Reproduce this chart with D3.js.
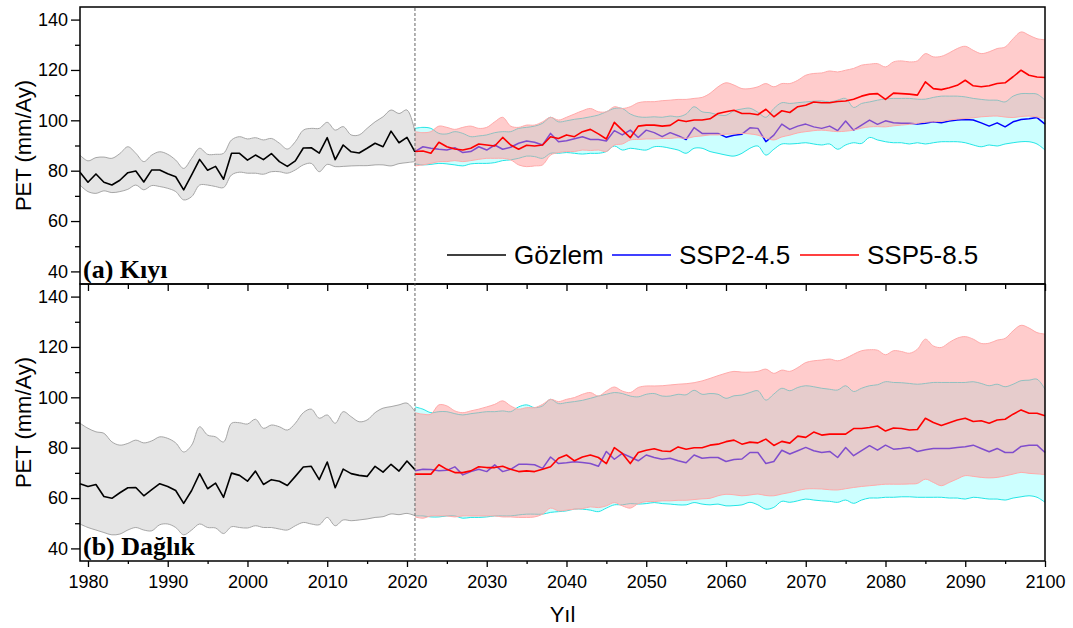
<!DOCTYPE html>
<html>
<head>
<meta charset="utf-8">
<script src="https://cdn.jsdelivr.net/npm/d3@7"></script>
<style>
  body { margin: 0; background: #fff; }
  svg { display: block; }
  text { font-family: "Liberation Sans", Arial, sans-serif; fill: #000; }
</style>
</head>
<body>
<svg width="1073" height="628"></svg>
<script>
// years
var obsYears = d3.range(1979, 2022);
var futYears = d3.range(2021, 2101);

// (a) Kiyi
var obsA   = [79.4,75.4,78.7,75.4,74.3,76.2,79.2,79.9,75.5,80.3,80.3,78.8,77.6,72.4,78.3,84.5,80.2,81.7,76.6,86.9,86.9,84.2,86.2,84.4,86.8,83.6,81.7,83.9,89.0,89.1,87.0,93.1,84.4,90.2,87.5,87.0,88.9,90.9,89.5,95.7,91.1,93.2,87.5];
var obsAHi = [86.2,83.9,85.2,85.4,84.9,86.8,89.5,86.9,83.6,86.2,87.5,86.5,84.2,80.9,84.9,88.9,86.5,86.5,86.9,92.2,93.5,92.6,93.1,92.2,92.8,90.9,88.6,91.5,96.1,96.8,96.8,99.2,96.1,97.5,94.2,94.2,96.8,99.4,101.4,104.1,102.7,104.1,95.5];
var obsALo = [74.3,71.7,71.0,72.0,71.3,71.7,72.6,74.3,72.4,74.1,73.7,73.0,71.7,68.4,69.7,74.3,74.3,73.7,73.3,78.3,79.4,79.0,79.0,78.6,79.6,79.6,79.0,80.3,82.3,82.9,79.6,82.5,81.6,81.7,81.9,82.0,82.0,82.3,82.3,81.9,82.8,83.2,83.6];

var ssp2A = [87.6,89.5,88.9,88.5,88.2,89.1,87.2,87.6,89.5,88.2, 90.2,88.5,89.3,90.9,91.8,91.3,90.2,94.8,91.5,91.9,
             92.7,93.5,92.4,92.4,91.8,95.9,94.2,96.1,93.2,96.1, 95.1,93.5,95.1,93.9,92.4,97.1,94.8,94.8,94.8,93.3,
             94.1,94.5,97.0,96.8,91.5,94.1,98.5,96.4,97.7,98.5, 97.4,96.8,97.7,95.9,99.7,96.1,98.1,100.1,98.4,99.8,
             99.0,98.8,98.8,98.5,98.8,99.4,99.0,99.7,100.1,100.3, 100.1,99.0,97.7,99.0,97.4,99.4,100.3,100.6,101.1,98.5];
var ssp2AHi = [96.8,97.2,96.8,94.8,94.6,95.5,94.8,93.5,93.8,94.2, 95.1,95.5,95.5,96.8,97.2,97.7,98.8,101.2,99.4,99.8,
               100.4,100.8,101.4,102.1,103.4,104.7,104.7,102.5,101.4,101.2, 101.4,101.2,101.7,101.4,102.5,105.4,103.4,103.0,102.2,102.0,
               103.8,104.5,104.8,103.2,101.2,104.7,107.0,106.7,107.0,107.3, 107.6,107.7,107.3,108.0,108.7,105.1,106.7,107.3,108.0,108.5,
               108.7,108.7,108.7,108.4,108.4,109.1,109.6,109.6,109.6,109.3, 108.7,108.3,108.0,108.0,107.3,109.6,110.6,110.6,110.4,108.0];
var ssp2ALo = [82.7,82.3,82.5,82.9,82.7,82.3,81.9,82.7,82.9,82.9, 83.2,84.0,84.3,84.9,85.8,85.6,84.9,86.9,86.9,87.2,
               86.9,86.6,86.9,86.9,87.6,89.8,88.2,88.9,88.5,88.2, 89.5,89.5,88.9,88.2,86.9,88.9,88.9,87.6,86.9,86.2,
               85.8,86.9,88.9,89.8,86.2,88.5,90.6,90.6,90.8,91.1, 90.6,90.2,90.6,88.5,90.2,91.1,90.8,93.2,92.2,91.5,
               91.1,91.1,90.6,91.1,90.6,91.1,91.5,91.5,91.5,91.1, 90.2,89.5,90.2,89.8,90.6,91.1,91.5,91.5,90.6,88.2];

var ssp5A = [87.6,87.8,86.9,91.3,89.5,88.6,88.2,88.9,90.6,90.2, 89.8,93.2,90.2,88.5,90.1,89.8,90.2,93.5,92.8,94.2,
             93.5,95.5,96.4,94.6,92.6,99.2,96.1,93.1,97.7,98.1, 98.1,97.7,98.0,100.1,99.5,100.1,100.1,100.6,102.7,103.4,
             104.0,102.7,102.7,102.2,104.4,101.4,103.8,103.1,105.4,106.0, 107.3,107.0,107.0,107.5,107.7,108.4,109.6,110.4,110.6,108.3,
             110.8,110.6,110.4,110.0,115.3,112.6,112.2,112.9,113.9,115.9, 113.7,113.3,113.7,114.6,114.9,117.3,119.9,117.9,117.2,117.0];
var ssp5AHi = [95.5,95.1,95.5,97.7,97.2,96.4,97.2,97.7,96.8,97.2, 99.4,101.2,97.7,97.2,98.1,98.1,99.4,101.2,100.1,101.2,
               102.5,103.8,104.7,103.4,103.4,105.4,104.7,105.4,107.0,107.4, 107.4,107.8,108.0,108.3,108.3,108.7,109.1,110.7,113.3,114.9,
               114.0,112.6,112.6,113.3,114.6,113.3,114.6,114.6,115.9,117.9, 118.6,118.8,119.6,119.2,119.9,120.6,121.9,122.3,122.5,121.2,
               123.2,123.6,123.2,123.6,126.5,125.2,125.4,126.8,128.5,129.4, 127.8,126.5,127.2,128.5,129.1,132.4,135.1,133.8,132.4,132.0];
var ssp5ALo = [81.9,82.3,82.9,83.6,83.6,84.0,83.6,84.0,84.5,84.9, 84.9,84.9,84.3,82.3,81.6,81.9,82.3,86.2,87.2,87.6,
               87.6,88.2,88.0,88.2,87.6,90.2,90.6,92.2,92.4,92.6, 92.6,92.8,92.8,93.1,92.8,93.5,93.8,94.2,94.2,94.5,
               94.6,94.8,94.6,94.1,93.0,92.2,93.4,94.1,95.0,95.5, 95.9,96.1,95.8,95.5,95.7,96.1,96.9,97.4,97.5,97.4,
               97.8,98.1,98.4,98.8,99.3,99.4,99.6,100.1,100.5,100.7, 101.0,101.4,101.6,101.7,101.3,101.1,101.5,101.7,101.3,100.7];

// (b) Daglik
var obsB   = [65.7,64.6,65.4,60.6,59.9,62.1,64.1,64.2,60.9,63.3,65.7,64.6,63.0,57.9,63.0,69.7,63.7,65.9,60.3,69.9,69.0,66.7,70.7,65.4,67.3,66.7,65.0,68.6,72.3,72.6,67.3,74.3,64.1,71.5,69.7,69.0,68.6,72.6,70.3,73.4,70.7,74.7,71.3];
var obsBHi = [89.7,87.7,86.3,85.7,82.3,81.0,81.7,83.0,81.9,82.7,84.3,83.7,81.9,78.3,81.0,88.3,85.0,84.3,82.3,89.7,89.9,89.4,91.3,87.7,89.0,88.3,87.0,89.7,93.9,95.3,91.7,93.0,89.7,94.3,92.3,90.3,91.0,93.9,95.7,96.3,97.0,97.7,94.3];
var obsBLo = [49.7,48.3,47.3,46.3,45.4,45.7,47.3,48.3,47.3,47.0,49.4,49.7,48.3,45.4,47.3,49.7,48.3,48.1,45.9,48.6,48.3,48.1,49.0,48.3,48.3,47.7,47.3,49.0,50.3,49.7,49.4,52.3,49.0,51.3,51.0,51.3,51.7,52.3,52.6,53.7,53.4,53.9,53.0];

var ssp2B = [70.8,71.4,71.3,70.8,71.0,72.4,69.2,70.5,71.4,70.5, 73.2,70.5,71.4,73.4,73.4,73.2,71.8,76.3,73.7,74.0,
             74.4,74.1,73.7,72.6,78.5,75.4,77.7,76.3,74.8,77.1, 76.1,75.4,75.8,74.8,74.0,77.1,75.8,76.1,76.1,74.5,
             75.3,75.5,78.1,78.1,73.7,74.5,79.0,77.5,78.8,80.1, 78.8,78.1,78.5,76.1,80.1,76.8,78.8,80.8,79.0,81.0,
             79.4,79.7,80.1,78.5,79.2,79.7,79.7,79.7,80.1,80.4, 81.0,79.7,78.4,79.7,78.1,78.1,80.5,81.0,81.0,78.1];
var ssp2BHi = [96.2,95.3,93.9,94.3,94.3,93.5,93.0,93.5,93.9,94.3, 94.3,94.6,94.3,96.2,97.0,95.9,96.6,99.2,97.5,97.9,
               98.3,98.8,99.6,100.5,101.2,101.9,101.5,100.5,100.2,101.2, 101.5,100.5,100.5,101.2,101.0,102.8,101.2,101.5,101.2,99.6,
               100.6,100.9,101.9,102.6,98.9,101.3,103.6,102.6,103.9,104.6, 104.2,103.6,103.2,102.9,104.6,102.3,103.6,104.6,105.0,106.2,
               105.9,105.8,105.5,105.2,105.5,105.9,105.9,105.9,105.9,105.9, 106.2,105.5,104.6,105.2,104.2,105.2,106.6,106.8,107.2,103.2];
var ssp2BLo = [52.9,52.9,52.5,52.5,52.9,52.9,52.0,52.3,52.3,52.5, 52.9,52.9,52.9,53.3,53.6,53.6,53.6,54.3,54.6,54.9,
               55.6,55.6,55.2,54.6,56.0,57.3,57.3,57.8,57.6,57.8, 58.2,57.8,57.6,57.3,57.3,58.2,57.6,57.3,57.6,56.9,
               57.0,57.3,58.3,57.3,55.6,56.3,58.7,58.3,58.9,59.6, 59.2,58.9,58.7,58.3,59.2,57.9,59.2,60.0,60.0,60.3,
               60.3,60.5,60.5,60.3,60.3,60.3,60.3,60.0,60.0,59.6, 60.3,60.0,59.6,59.6,59.2,60.0,60.5,60.9,60.3,58.3];

var ssp5B = [69.5,69.5,69.5,73.2,71.4,70.1,70.1,70.8,72.4,72.1, 72.1,72.6,71.4,70.5,70.8,70.5,71.4,72.4,75.8,77.1,
             74.8,76.3,77.1,76.1,73.7,80.0,77.7,73.7,78.1,79.0, 79.6,78.7,78.5,80.3,79.4,80.0,80.0,81.0,81.4,82.4,
             83.0,81.4,82.2,81.9,83.4,80.9,82.5,81.8,84.6,84.1, 86.2,85.0,85.4,85.4,85.4,87.6,87.6,88.0,88.6,86.6,
             87.8,87.6,87.0,87.2,91.7,90.0,88.8,89.9,91.0,91.7, 90.4,90.7,89.7,91.0,91.3,93.3,95.0,93.7,93.7,92.7];
var ssp5BHi = [93.9,93.3,93.3,97.0,96.6,94.6,93.9,94.6,95.3,96.2, 97.2,98.6,96.6,95.3,95.9,95.9,97.2,99.2,98.3,99.2,
               99.9,101.2,101.9,100.5,102.5,104.1,102.5,101.9,103.9,104.5, 104.5,104.6,104.9,105.2,105.4,105.8,106.5,107.5,108.6,109.6,
               110.3,110.0,110.0,110.3,111.2,109.5,110.8,110.3,111.8,113.8, 114.5,114.8,115.2,114.5,115.5,117.1,118.5,118.9,118.7,116.9,
               118.5,118.2,117.5,119.1,123.1,120.4,119.8,121.8,123.5,124.1, 123.1,121.4,121.5,122.7,123.4,126.4,128.6,127.5,125.7,125.1];
var ssp5BLo = [52.5,52.0,52.9,52.9,52.9,52.5,52.9,52.9,52.9,52.9, 52.9,52.5,52.5,52.3,52.3,52.5,53.6,56.0,54.9,55.2,
               55.6,55.8,56.5,56.2,56.9,58.2,56.9,56.0,57.8,58.6, 58.6,58.9,58.9,59.1,59.1,59.4,59.7,59.9,60.9,61.5,
               61.3,60.9,61.2,61.6,61.0,60.9,61.6,62.2,63.0,63.6, 63.7,63.6,63.3,63.2,63.7,64.2,64.6,64.9,65.2,65.5,
               65.5,65.5,65.6,65.8,67.5,66.2,64.9,66.2,67.6,68.9, 68.6,68.2,68.0,68.2,68.8,69.5,70.2,69.8,69.6,69.3];

var yTicks = [40, 60, 80, 100, 120, 140];
var yMinor = [50, 70, 90, 110, 130];
var xTicks = d3.range(1980, 2101, 10);
var xMinor = d3.range(1985, 2100, 10);
var legendNames = ["Gözlem", "SSP2-4.5", "SSP5-8.5"];

var svg = d3.select("svg");
var left = 80, right = 1045;
var x = d3.scaleLinear().domain([1979, 2100]).range([left, right]);

var panels = [
  {top: 7, bottom: 284, label: "(a) Kıyı",
   obs: obsA, obsHi: obsAHi, obsLo: obsALo,
   s2: ssp2A, s2Hi: ssp2AHi, s2Lo: ssp2ALo,
   s5: ssp5A, s5Hi: ssp5AHi, s5Lo: ssp5ALo},
  {top: 284, bottom: 561, label: "(b) Dağlık",
   obs: obsB, obsHi: obsBHi, obsLo: obsBLo,
   s2: ssp2B, s2Hi: ssp2BHi, s2Lo: ssp2BLo,
   s5: ssp5B, s5Hi: ssp5BHi, s5Lo: ssp5BLo}
];

function band(g, y, yrs, hi, lo, fill, edge) {
  var pts = yrs.map(function(d, i) { return {yr: d, hi: hi[i], lo: lo[i]}; });
  var curve = d3.curveCatmullRom.alpha(0.5);
  g.append("path").datum(pts)
    .attr("d", d3.area().curve(curve).x(function(d) { return x(d.yr); })
      .y0(function(d) { return y(d.lo); }).y1(function(d) { return y(d.hi); }))
    .attr("fill", fill).attr("fill-opacity", 0.5).attr("stroke", "none");
  ["hi", "lo"].forEach(function(k) {
    g.append("path").datum(pts)
      .attr("d", d3.line().curve(curve).x(function(d) { return x(d.yr); })
        .y(function(d) { return y(d[k]); }))
      .attr("fill", "none").attr("stroke", edge).attr("stroke-width", 1);
  });
}

function series(g, y, yrs, vals, color, w) {
  g.append("path").datum(vals)
    .attr("d", d3.line().x(function(d, i) { return x(yrs[i]); }).y(function(d) { return y(d); }))
    .attr("fill", "none").attr("stroke", color).attr("stroke-width", w)
    .attr("stroke-linejoin", "round");
}

panels.forEach(function(p, pi) {
  var y = d3.scaleLinear().domain([35, 145]).range([p.bottom, p.top]);
  var g = svg.append("g");

  band(g, y, obsYears, p.obsHi, p.obsLo, "#cccccc", "#a6a6a6");
  band(g, y, futYears, p.s2Hi, p.s2Lo, "#99ffff", "#22e6e6");
  series(g, y, futYears, p.s2, "#0000ff", 1.5);
  band(g, y, futYears, p.s5Hi, p.s5Lo, "#ff9999", "#ffaaaa");
  series(g, y, futYears, p.s5, "#ff0000", 1.6);
  series(g, y, obsYears, p.obs, "#000000", 1.6);

  // y axis
  var ya = svg.append("g").attr("transform", "translate(" + left + ",0)")
    .call(d3.axisLeft(y).tickValues(yTicks).tickSize(9).tickPadding(3));
  ya.select(".domain").remove();
  ya.selectAll("line").attr("stroke-width", 1.3);
  ya.selectAll("text").style("font-size", "18px").style("font-family", "Liberation Sans, Arial, sans-serif");
  var ym = svg.append("g").attr("transform", "translate(" + left + ",0)")
    .call(d3.axisLeft(y).tickValues(yMinor).tickSize(5).tickFormat(""));
  ym.select(".domain").remove();
  ym.selectAll("line").attr("stroke-width", 1.3);

  svg.append("text")
    .attr("transform", "translate(31," + ((p.top + p.bottom) / 2) + ") rotate(-90)")
    .attr("text-anchor", "middle")
    .style("font-size", "22px")
    .text("PET (mm/Ay)");

  svg.append("text")
    .attr("x", 83).attr("y", p.bottom - 6)
    .style("font-family", "Liberation Serif, Times New Roman, serif")
    .style("font-weight", "bold").style("font-size", "26px")
    .text(p.label);

  svg.append("rect")
    .attr("x", left).attr("y", p.top)
    .attr("width", right - left).attr("height", p.bottom - p.top)
    .attr("fill", "none").attr("stroke", "#000").attr("stroke-width", 1.5);
});

// x ticks on the shared edge (pointing into lower panel)
var xt = svg.append("g").attr("transform", "translate(0,284)")
  .call(d3.axisBottom(x).tickValues(xTicks).tickSize(7).tickFormat(""));
xt.select(".domain").remove();
xt.selectAll("line").attr("stroke-width", 1.3);
var xtm = svg.append("g").attr("transform", "translate(0,284)")
  .call(d3.axisBottom(x).tickValues(xMinor).tickSize(5).tickFormat(""));
xtm.select(".domain").remove();
xtm.selectAll("line").attr("stroke-width", 1.3);

// bottom x axis
var xb = svg.append("g").attr("transform", "translate(0,561)")
  .call(d3.axisBottom(x).tickValues(xTicks).tickSize(6).tickPadding(8).tickFormat(d3.format("d")));
xb.select(".domain").remove();
xb.selectAll("line").attr("stroke-width", 1.3);
xb.selectAll("text").style("font-size", "18px").style("font-family", "Liberation Sans, Arial, sans-serif");
var xbm = svg.append("g").attr("transform", "translate(0,561)")
  .call(d3.axisBottom(x).tickValues(xMinor).tickSize(3).tickFormat(""));
xbm.select(".domain").remove();
xbm.selectAll("line").attr("stroke-width", 1.3);

svg.append("text")
  .attr("x", (left + right) / 2).attr("y", 622)
  .attr("text-anchor", "middle")
  .style("font-size", "22px")
  .text("Yıl");

// 2021 split line
svg.append("line")
  .attr("x1", x(2021)).attr("x2", x(2021))
  .attr("y1", 8).attr("y2", 560)
  .attr("stroke", "#555").attr("stroke-width", 0.9)
  .attr("stroke-dasharray", "3,2");

// legend
var legColors = ["#000000", "#0000ff", "#ff0000"];
var legX = [447, 612, 800];
legendNames.forEach(function(name, i) {
  svg.append("line")
    .attr("x1", legX[i]).attr("x2", legX[i] + 59)
    .attr("y1", 255).attr("y2", 255)
    .attr("stroke", legColors[i]).attr("stroke-width", 1.5);
  svg.append("text")
    .attr("x", legX[i] + 67).attr("y", 264)
    .style("font-size", "26px")
    .text(name);
});
</script>
</body>
</html>
